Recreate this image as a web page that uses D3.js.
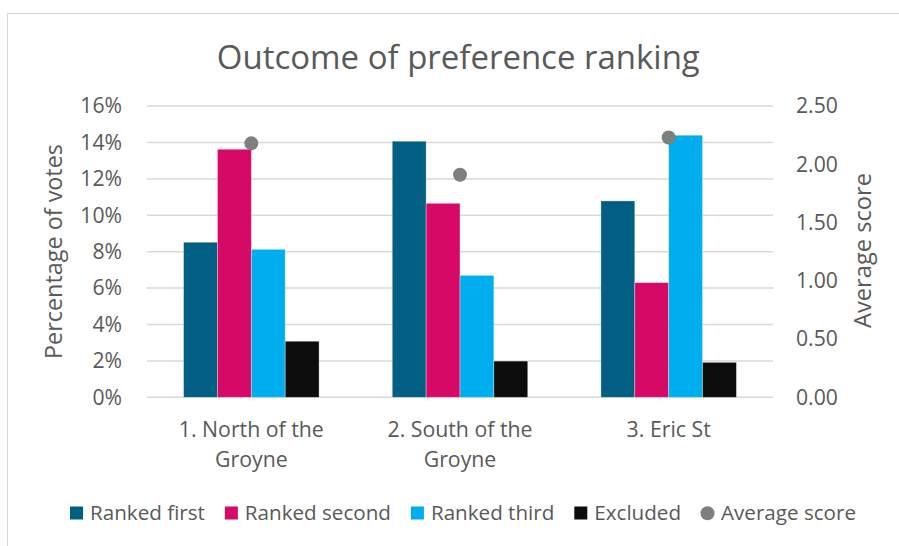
<!DOCTYPE html>
<html>
<head>
<meta charset="utf-8">
<script src="https://cdn.jsdelivr.net/npm/d3@7"></script>
<style>
  html, body { margin: 0; padding: 0; background: #fff; }
  svg { display: block; }
  text { font-family: "Open Sans", "Noto Sans", sans-serif; fill: #595959; }
</style>
</head>
<body>
<svg id="chart" width="899" height="546"></svg>
<script>
// ---- data ----
const categories = ["1. North of the Groyne", "2. South of the Groyne", "3. Eric St"];
const categoryLines = [["1. North of the", "Groyne"], ["2. South of the", "Groyne"], ["3. Eric St"]];
const seriesNames = ["Ranked first", "Ranked second", "Ranked third", "Excluded"];
const rankedFirst  = [8.52, 14.07, 10.79];
const rankedSecond = [13.63, 10.66, 6.30];
const rankedThird  = [8.13, 6.70, 14.40];
const excluded     = [3.08, 1.99, 1.92];
const averageScore = [2.18, 1.91, 2.23];
const leftTicks  = [0, 2, 4, 6, 8, 10, 12, 14, 16];
const rightTicks = [0, 0.5, 1.0, 1.5, 2.0, 2.5];
const title = "Outcome of preference ranking";
const leftTitle = "Percentage of votes";
const rightTitle = "Average score";
const legendNames = ["Ranked first", "Ranked second", "Ranked third", "Excluded", "Average score"];

const seriesValues = [rankedFirst, rankedSecond, rankedThird, excluded];
const colors = ["#005F83", "#D60A66", "#00AEEF", "#0D0D0D"];
const dotColor = "#7F7F7F";
const gridColor = "#D9D9D9";

// ---- layout ----
const svg = d3.select("#chart");
const plot = { left: 147, right: 773, top: 106.1, bottom: 397.3 };

function fit(sel, target) {
  const base = 20;
  sel.style("font-size", base + "px");
  const w = sel.node().getComputedTextLength();
  const size = base * target / w;
  sel.style("font-size", size + "px");
  return size;
}

// chart border
svg.append("rect").attr("x", 7.5).attr("y", 13.5).attr("width", 1000).attr("height", 1000)
  .attr("fill", "none").attr("stroke", gridColor).attr("stroke-width", 1);

// scales
const x0 = d3.scaleBand().domain(categories).range([plot.left, plot.right]).paddingInner(0).paddingOuter(0);
const x1 = d3.scaleBand().domain(seriesNames).range([0, x0.bandwidth()]).paddingInner(0).paddingOuter(1.08);
const yL = d3.scaleLinear().domain([0, 16]).range([plot.bottom, plot.top]);
const yR = d3.scaleLinear().domain([0, 2.5]).range([plot.bottom, plot.top]);

// gridlines
svg.append("g").selectAll("line").data(leftTicks).join("line")
  .attr("x1", plot.left).attr("x2", plot.right)
  .attr("y1", d => yL(d)).attr("y2", d => yL(d))
  .attr("stroke", gridColor).attr("stroke-width", 1.5);

// left axis labels
const lAxis = d3.axisLeft(yL).tickValues(leftTicks).tickFormat(d => d + "%").tickSize(0).tickPadding(0);
const gL = svg.append("g").attr("transform", `translate(122,0)`).call(lAxis);
gL.select(".domain").remove();
gL.selectAll("text").attr("fill", "#595959").attr("font-family", null);
const tickSize = fit(gL.selectAll("text").filter(d => d === 16), 41.7);
gL.selectAll("text").style("font-size", tickSize + "px");

// right axis labels
const rAxis = d3.axisRight(yR).tickValues(rightTicks).tickFormat(d3.format(".2f")).tickSize(0).tickPadding(0);
const gR = svg.append("g").attr("transform", `translate(796,0)`).call(rAxis);
gR.select(".domain").remove();
gR.selectAll("text").attr("fill", "#595959").attr("font-family", null).style("font-size", tickSize + "px");

// bars
const groups = svg.append("g").selectAll("g").data(categories).join("g")
  .attr("transform", d => `translate(${x0(d)},0)`);
groups.selectAll("rect")
  .data((c, i) => seriesNames.map((s, j) => ({ s, j, v: seriesValues[j][i] })))
  .join("rect")
  .attr("x", d => x1(d.s))
  .attr("width", x1.bandwidth())
  .attr("y", d => yL(d.v))
  .attr("height", d => yL(0) - yL(d.v))
  .attr("fill", d => colors[d.j])
  .attr("stroke", "rgba(255,255,255,0.45)")
  .attr("stroke-width", 0.75);

// average score dots
svg.append("g").selectAll("circle").data(categories).join("circle")
  .attr("cx", d => x0(d) + x0.bandwidth() / 2)
  .attr("cy", (d, i) => yR(averageScore[i]))
  .attr("r", 7)
  .attr("fill", dotColor);

// category labels
const catG = svg.append("g");
categories.forEach((c, i) => {
  const t = catG.append("text")
    .attr("x", x0(c) + x0.bandwidth() / 2)
    .attr("y", 437.3)
    .attr("text-anchor", "middle");
  categoryLines[i].forEach((line, k) => {
    t.append("tspan").attr("x", x0(c) + x0.bandwidth() / 2).attr("y", 437.3 + k * 29.5).text(line);
  });
});
{
  const probe = catG.append("text").text(categoryLines[0][0]);
  const catSize = fit(probe, 145);
  probe.remove();
  catG.selectAll("text").style("font-size", catSize + "px");
}

// title
const tt = svg.append("text").attr("x", 458.3).attr("y", 69).attr("text-anchor", "middle").text(title);
fit(tt, 483);

// axis titles
const lt = svg.append("text").attr("transform", "translate(62,251.5) rotate(-90)")
  .attr("text-anchor", "middle").text(leftTitle);
fit(lt, 215);
const rt = svg.append("text").attr("transform", "translate(871,250.5) rotate(-90)")
  .attr("text-anchor", "middle").text(rightTitle);
fit(rt, 155);

// legend
const leg = svg.append("g");
const probeL = leg.append("text").text(legendNames[0]);
const legSize = fit(probeL, 115);
probeL.remove();
const items = legendNames.map(n => {
  const t = leg.append("text").attr("y", 520).style("font-size", legSize + "px").text(n);
  return { n, t, w: t.node().getComputedTextLength() };
});
const sw = 13, gapIn = 7;
const legStart = 70, legEnd = 856;
const gapOut = (legEnd - legStart - d3.sum(items, d => sw + gapIn + d.w)) / (items.length - 1);
let cx = legStart;
items.forEach((d, i) => {
  if (i < 4) {
    leg.append("rect").attr("x", cx).attr("y", 506.5).attr("width", sw).attr("height", sw).attr("fill", colors[i]);
  } else {
    leg.append("circle").attr("cx", cx + sw / 2).attr("cy", 513.3).attr("r", 7).attr("fill", dotColor);
  }
  d.t.attr("x", cx + sw + gapIn);
  cx += sw + gapIn + d.w + gapOut;
});
</script>
</body>
</html>
